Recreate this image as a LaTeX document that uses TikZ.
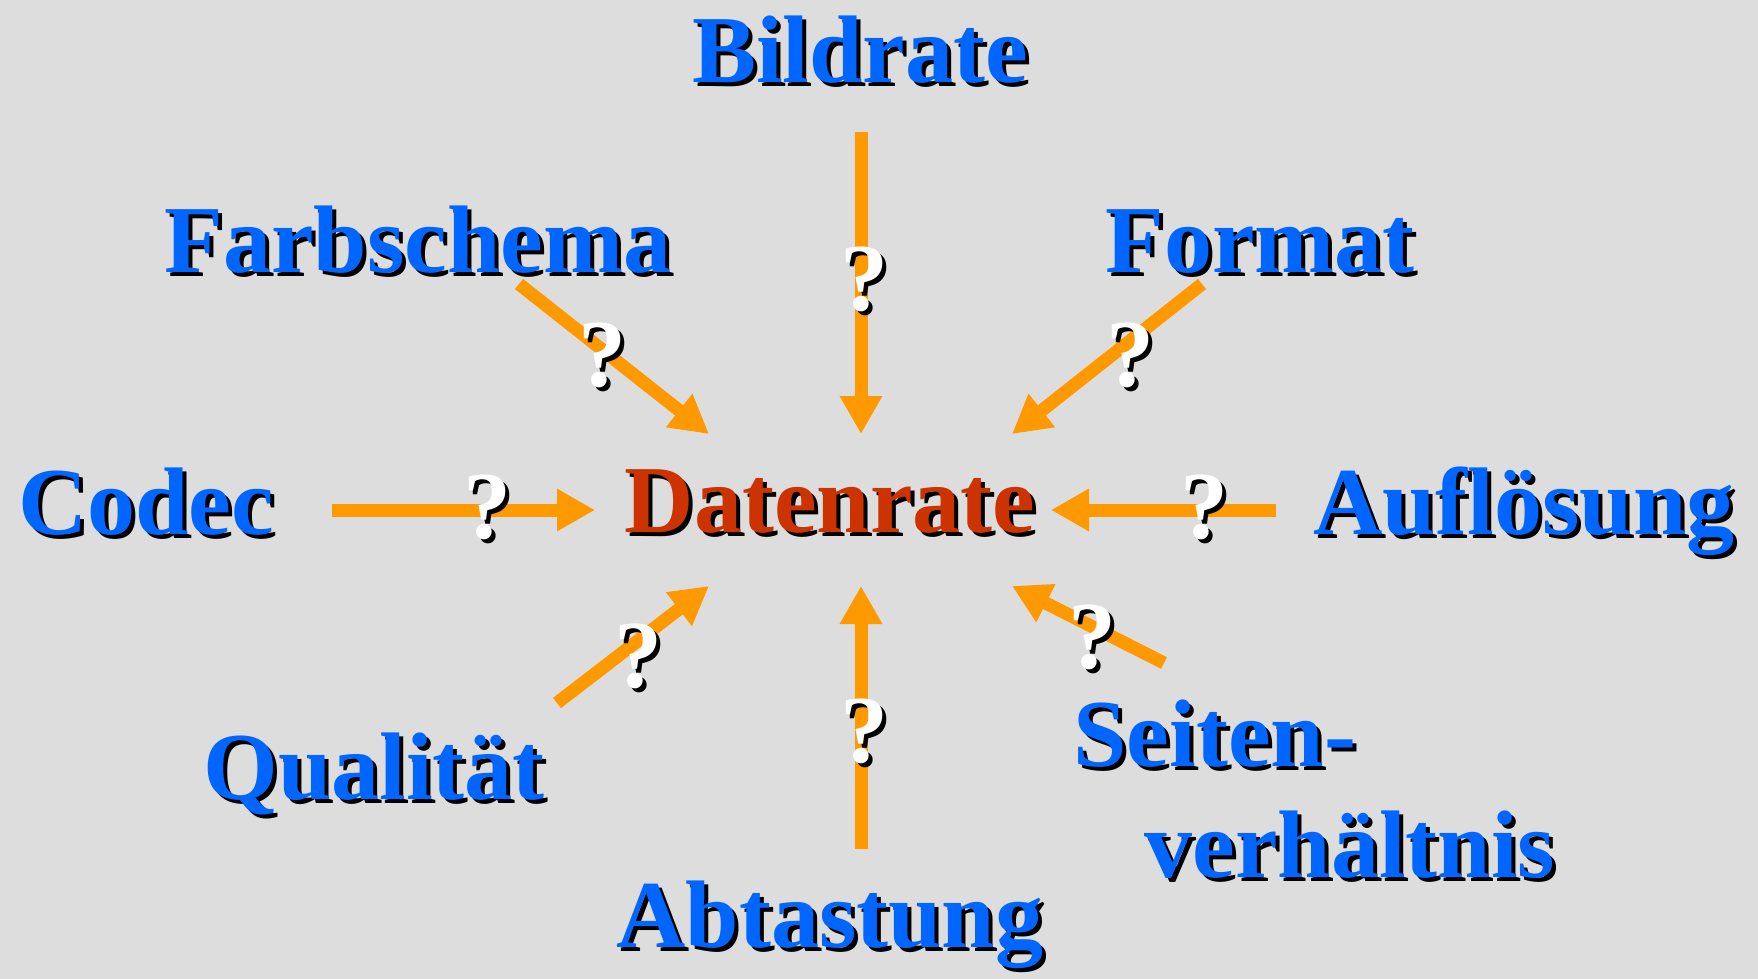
\documentclass[tikz,border=0pt]{standalone}
\usepackage{fontspec}
\setmainfont{Liberation Serif}
\usetikzlibrary{arrows.meta}
\definecolor{bg}{HTML}{DDDDDD}
\definecolor{wordblue}{HTML}{0066FF}
\definecolor{centerred}{HTML}{CC3300}
\definecolor{arrorange}{HTML}{FF9900}
\newcommand\shtxt[2]{\rlap{\kern2pt\raisebox{-2pt}{\color{black}#2}}\textcolor{#1}{#2}}
\tikzset{
  word/.style={inner sep=0pt, anchor=base, font=\fontsize{48pt}{56pt}\selectfont\bfseries},
  qmark/.style={inner sep=0pt, anchor=base, font=\fontsize{48pt}{56pt}\selectfont\bfseries},
  arr/.style={draw=arrorange, line width=6.5pt,
    -{Triangle[width=20pt,length=19pt,fill=arrorange]}},
}
\begin{document}
\begin{tikzpicture}[x=0.5pt,y=-0.5pt]
\fill[bg] (0,0) rectangle (1758,979);
\useasboundingbox (0,0) rectangle (1758,979);
% words
\node[word] (bild) at (860,83) {\shtxt{wordblue}{Bildrate}};
\node[word] (farb) at (418,272) {\shtxt{wordblue}{Farbschema}};
\node[word] (form) at (1260,272) {\shtxt{wordblue}{Format}};
\node[word] (codec) at (146,534) {\shtxt{wordblue}{Codec}};
\node[word] (daten) at (830,532) {\shtxt{centerred}{Datenrate}};
\node[word] (aufl) at (1524,534) {\shtxt{wordblue}{Auflösung}};
\node[word] (qual) at (374,799) {\shtxt{wordblue}{Qualität}};
\node[word, anchor=base west] (seit) at (1073,766) {\shtxt{wordblue}{Seiten-}};
\node[word, anchor=base west] (verh) at (1144,877) {\shtxt{wordblue}{verhältnis}};
\node[word] (abt) at (830,947) {\shtxt{wordblue}{Abtastung}};
% arrow end points
\coordinate (tb) at (861,132);  \coordinate (hb) at (861,434);
\coordinate (tf) at (519,284);  \coordinate (hf) at (709,434);
\coordinate (tm) at (1202,284); \coordinate (hm) at (1012,434);
\coordinate (tc) at (332,510);  \coordinate (hc) at (595,510);
\coordinate (ta) at (1276,510); \coordinate (ha) at (1051,510);
\coordinate (tq) at (557,703);  \coordinate (hq) at (709,586);
\coordinate (tt) at (861,849);  \coordinate (ht) at (861,586);
\coordinate (ts) at (1164,663); \coordinate (hs) at (1012,586);
\draw[arr] (tb) -- (hb);
\draw[arr] (tf) -- (hf);
\draw[arr] (tm) -- (hm);
\draw[arr] (tc) -- (hc);
\draw[arr] (ta) -- (ha);
\draw[arr] (tq) -- (hq);
\draw[arr] (tt) -- (ht);
\draw[arr] (ts) -- (hs);
% question marks
\node[qmark] (q1) at (864,310) {\shtxt{white}{?}};
\node[qmark] (q2) at (602,386) {\shtxt{white}{?}};
\node[qmark] (q3) at (1130,386) {\shtxt{white}{?}};
\node[qmark] (q4) at (487,538) {\shtxt{white}{?}};
\node[qmark] (q5) at (1204,538) {\shtxt{white}{?}};
\node[qmark] (q6) at (638,687) {\shtxt{white}{?}};
\node[qmark] (q7) at (864,762) {\shtxt{white}{?}};
\node[qmark] (q8) at (1092,668) {\shtxt{white}{?}};
\end{tikzpicture}
\end{document}
